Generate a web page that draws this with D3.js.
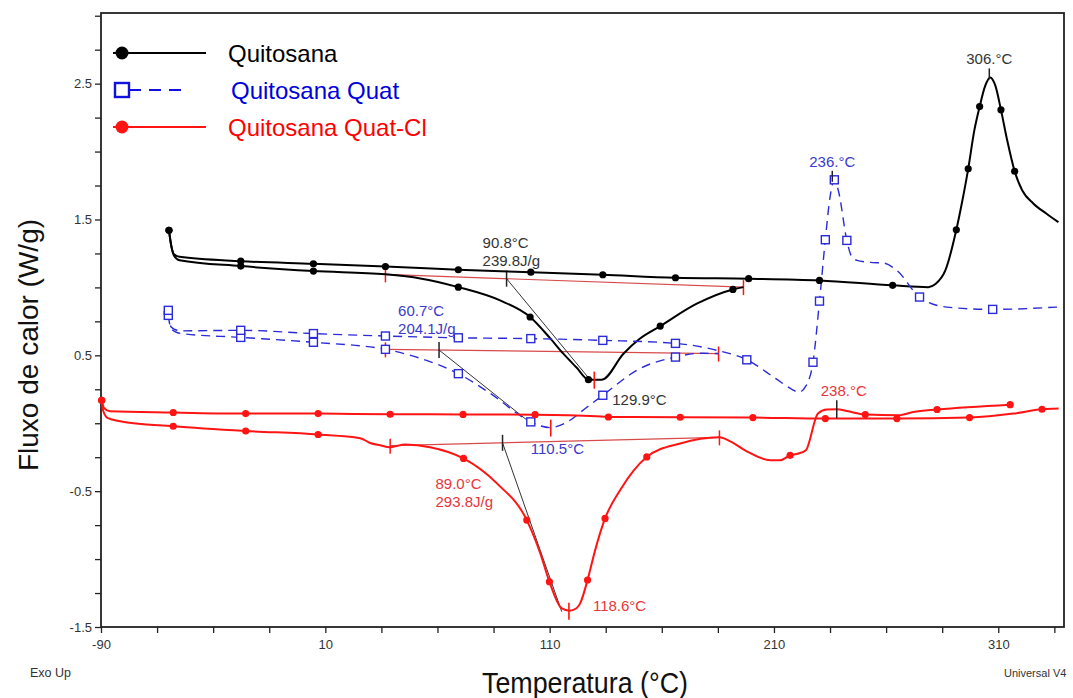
<!DOCTYPE html>
<html>
<head>
<meta charset="utf-8">
<script src="https://cdn.jsdelivr.net/npm/d3@7"></script>
<style>
  body { margin: 0; background: #fff; }
  #chart { width: 1073px; height: 698px; }
</style>
</head>
<body>
<div id="chart"></div>
<script>
// tick labels
const tempTicks = [-90, 10, 110, 210, 310];
const fluxTicks = [-1.5, -0.5, 0.5, 1.5, 2.5];

const legendItems = ["Quitosana", "Quitosana Quat", "Quitosana Quat-Cl"];

// [temperature, heat flow, marker?]
// Quitosana, run with the endotherm
const quitosanaRun1 = [
    [-59.7, 1.42, 1], [-58.6, 1.30], [-57.5, 1.235], [-55, 1.200],
    [-27.7, 1.157, 1], [4.7, 1.120, 1], [36.8, 1.096], [52.3, 1.066],
    [69.3, 1.002, 1], [87.9, 0.904], [101.3, 0.782, 1], [110, 0.63],
    [116.1, 0.512], [122, 0.41], [127.3, 0.321, 1], [133.3, 0.321],
    [142.9, 0.512], [150, 0.62], [159.3, 0.715, 1], [175.6, 0.880],
    [191.7, 0.985, 1], [196.4, 1.002]
];
// Quitosana, run to 340 °C
const quitosanaRun2 = [
    [-59.7, 1.42, 1], [-58.6, 1.30], [-57.5, 1.245], [-55, 1.225],
    [-27.7, 1.193, 1], [4.7, 1.174, 1], [36.8, 1.154, 1], [69.3, 1.130, 1],
    [101.6, 1.112, 1], [133.7, 1.093, 1], [166.1, 1.071, 1], [198.7, 1.064, 1],
    [230.3, 1.051, 1], [262.9, 1.015, 1], [278.8, 1.002], [282, 1.025],
    [286.4, 1.125], [291.3, 1.424, 1], [294, 1.64], [296.6, 1.873, 1],
    [299.3, 2.154], [301.7, 2.331, 1], [304.2, 2.485], [306.4, 2.546],
    [308.7, 2.485], [311.2, 2.307, 1], [314, 2.081], [317.3, 1.855, 1],
    [320.7, 1.713], [325.6, 1.618], [331.4, 1.544], [336.8, 1.48]
];

// Quitosana Quat
const quatRun1 = [
    [-60, 0.794, 1], [-59.5, 0.74], [-58.8, 0.70], [-57, 0.675], [-54, 0.66],
    [-27.7, 0.632, 1], [4.7, 0.596, 1], [36.8, 0.544, 1], [52.3, 0.478],
    [69.3, 0.365, 1], [83.5, 0.22], [101.6, 0.010, 1], [106, -0.02],
    [110.2, -0.032], [114, -0.02], [119.1, 0.022], [126, 0.11],
    [133.7, 0.206, 1], [150.4, 0.404], [166.1, 0.487, 1], [177.1, 0.515],
    [185.3, 0.513]
];
const quatRun2 = [
    [-60, 0.831, 1], [-59.5, 0.76], [-58.8, 0.71], [-57, 0.69], [-54, 0.68],
    [-27.7, 0.684, 1], [4.7, 0.660, 1], [36.8, 0.642, 1], [69.3, 0.629, 1],
    [101.6, 0.623, 1], [133.7, 0.610, 1], [166.1, 0.588, 1], [184.5, 0.537],
    [197.9, 0.467, 1], [210.6, 0.331], [218, 0.25], [221, 0.228],
    [224.4, 0.279], [227.4, 0.449, 1], [230.3, 0.899, 1], [232.9, 1.351, 1],
    [235.1, 1.676], [236.9, 1.792, 1], [238.7, 1.713], [242.5, 1.346, 1],
    [244.4, 1.235], [247, 1.199], [252.9, 1.184], [258.9, 1.179],
    [264.8, 1.125], [274.9, 0.929, 1], [287.1, 0.855], [307.5, 0.838, 1],
    [336.2, 0.855]
];

// Quitosana Quat-Cl
const quatClRun1 = [
    [-89.7, 0.169, 1], [-89.1, 0.096], [-86.9, 0.037], [-81.5, 0.015],
    [-57.8, -0.022, 1], [-25.5, -0.057, 1], [6.8, -0.083, 1], [25.5, -0.11],
    [30, -0.145], [34.4, -0.162], [38.9, -0.176], [45.6, -0.157],
    [56.7, -0.176], [71.6, -0.259, 1], [86.5, -0.443], [99.8, -0.713, 1],
    [105.8, -0.956], [109.9, -1.167, 1], [115.4, -1.363], [118.8, -1.380],
    [121.8, -1.364], [123.6, -1.326], [126.9, -1.154, 1], [130.3, -0.934],
    [134.7, -0.701, 1], [141.4, -0.493], [153.3, -0.248, 1], [168.2, -0.149],
    [185.7, -0.104], [190.5, -0.133], [197.9, -0.207], [208.3, -0.272],
    [212.8, -0.272], [217.2, -0.236, 1], [220.9, -0.223], [224.2, -0.199],
    [229.6, 0.071], [233.6, 0.101], [238.1, 0.103], [242.5, 0.090],
    [250.7, 0.064, 1], [265.5, 0.059], [272.2, 0.083], [282.7, 0.101, 1],
    [315.3, 0.137, 1]
];
const quatClRun2 = [
    [-89.7, 0.169, 1], [-88.6, 0.11], [-86, 0.088], [-57.8, 0.079, 1],
    [-25.5, 0.071, 1], [6.8, 0.071, 1], [38.9, 0.066, 1], [71.4, 0.065, 1],
    [103.5, 0.063, 1], [131, 0.051], [136.2, 0.046, 1], [168.2, 0.044, 1],
    [200.6, 0.042, 1], [232.9, 0.034, 1], [264.8, 0.034, 1], [297.2, 0.042, 1],
    [316.7, 0.071], [329.5, 0.103, 1], [336.9, 0.108]
];

// integration baselines [start, end]
const baselines = [
    [[36.8, 1.096], [196.4, 1.002]],
    [[36.8, 0.544], [185.3, 0.513]],
    [[38.9, -0.165], [185.7, -0.104]]
];
// onset: temperature, enthalpy, end of the tangent line
const onsetTemps = [90.8, 60.7, 89.0];
const enthalpies = ["239.8J/g", "204.1J/g", "293.8J/g"];
const tangentEnds = [[128, 0.321], [102.2, -0.007], [115.4, -1.387]];
// endothermic minima
const minTemps = [129.9, 110.5, 118.6];
const minFlux = [0.321, -0.032, -1.380];
// exothermic / transition peaks
const peakTemps = [306, 236, 238];
const peakFlux = [2.546, 1.792, 0.103];

const W = 1073, H = 698;
const FONT = "'Liberation Sans', Arial, sans-serif";
const colors = ["#000000", "#2a2ad8", "#ff1414"];
const textColors = ["#333333", "#3a3acc", "#e8363a"];

const svg = d3.select("#chart").append("svg")
    .attr("width", W).attr("height", H)
    .style("background", "#fff");

const x = d3.scaleLinear().domain([-90, 339.3]).range([101, 1064]);
const y = d3.scaleLinear().domain([-1.5, 3.02]).range([627, 13]);

// axes
const xAxis = d3.axisBottom(x)
    .tickValues(d3.range(0, 18).map(i => -90 + i * 25))
    .tickSize(6).tickSizeOuter(0)
    .tickFormat(d => tempTicks.includes(d) ? String(d) : "");
const yAxis = d3.axisLeft(y)
    .tickValues(d3.range(0, 19).map(i => -1.5 + i * 0.25))
    .tickSize(6).tickSizeOuter(0)
    .tickFormat(d => fluxTicks.some(t => Math.abs(t - d) < 1e-6) ? d.toFixed(1) : "");

const gx = svg.append("g").attr("transform", "translate(0,627)").call(xAxis);
const gy = svg.append("g").attr("transform", "translate(101,0)").call(yAxis);
[gx, gy].forEach(g => {
    g.select(".domain").remove();
    g.selectAll(".tick line").attr("stroke", "#222").attr("stroke-width", 1.3);
    g.selectAll(".tick text").attr("fill", "#333").style("font-family", FONT).style("font-size", "13px");
});
gx.selectAll(".tick text").attr("dy", "1em");

// frame
svg.append("rect")
    .attr("x", 101).attr("y", 13)
    .attr("width", 1064 - 101).attr("height", 627 - 13)
    .attr("fill", "none").attr("stroke", "#222").attr("stroke-width", 1.8);

// annotations under the curves
const plot = svg.append("g");
baselines.forEach((b, i) => {
    plot.append("line")
        .attr("x1", x(b[0][0])).attr("y1", y(b[0][1]))
        .attr("x2", x(b[1][0])).attr("y2", y(b[1][1]))
        .attr("stroke", "#d84a4a").attr("stroke-width", 1.2);
    b.forEach(p => {
        plot.append("line")
            .attr("x1", x(p[0])).attr("x2", x(p[0]))
            .attr("y1", y(p[1]) - 7).attr("y2", y(p[1]) + 8)
            .attr("stroke", "#ff1414").attr("stroke-width", 1.5);
    });
});

const baseAt = (b, t) => b[0][1] + (t - b[0][0]) / (b[1][0] - b[0][0]) * (b[1][1] - b[0][1]);

onsetTemps.forEach((t, i) => {
    const v = baseAt(baselines[i], t);
    plot.append("line")
        .attr("x1", x(t)).attr("y1", y(v))
        .attr("x2", x(tangentEnds[i][0])).attr("y2", y(tangentEnds[i][1]))
        .attr("stroke", "#333").attr("stroke-width", 1);
    plot.append("line")
        .attr("x1", x(t)).attr("x2", x(t))
        .attr("y1", y(v) - 8).attr("y2", y(v) + 8)
        .attr("stroke", "#222").attr("stroke-width", 1.5);
});

// curves
const line = d3.line()
    .x(d => x(d[0])).y(d => y(d[1]))
    .curve(d3.curveMonotoneX);

const series = [
    { key: "q1", data: quitosanaRun1, c: 0 },
    { key: "q2", data: quitosanaRun2, c: 0 },
    { key: "qq1", data: quatRun1, c: 1 },
    { key: "qq2", data: quatRun2, c: 1 },
    { key: "qc1", data: quatClRun1, c: 2 },
    { key: "qc2", data: quatClRun2, c: 2 }
];

svg.selectAll(".curve")
    .data(series, d => d.key)
    .join("path")
    .attr("class", d => `curve ${d.key}`)
    .attr("d", d => line(d.data))
    .attr("fill", "none")
    .attr("stroke", d => colors[d.c])
    .attr("stroke-width", d => d.c == 1 ? 1.4 : 2)
    .attr("stroke-dasharray", d => d.c == 1 ? "9,6" : null);

// point markers
series.forEach(s => {
    const pts = s.data.filter(d => d[2]);
    if (s.c == 1) {
        svg.selectAll(".mk-" + s.key).data(pts).join("rect")
            .attr("x", d => x(d[0]) - 4).attr("y", d => y(d[1]) - 4)
            .attr("width", 8).attr("height", 8)
            .attr("fill", "#fff").attr("stroke", colors[1]).attr("stroke-width", 1.4);
    } else {
        svg.selectAll(".mk-" + s.key).data(pts).join("circle")
            .attr("cx", d => x(d[0])).attr("cy", d => y(d[1]))
            .attr("r", 3.6).attr("fill", colors[s.c]);
    }
});

// minimum ticks (red crosses)
minTemps.forEach((t, i) => {
    svg.append("line")
        .attr("x1", x(t)).attr("x2", x(t))
        .attr("y1", y(minFlux[i]) - 8).attr("y2", y(minFlux[i]) + 9)
        .attr("stroke", "#ff1414").attr("stroke-width", 1.6);
});
// peak ticks
peakTemps.forEach((t, i) => {
    svg.append("line")
        .attr("x1", x(t)).attr("x2", x(t))
        .attr("y1", y(peakFlux[i]) - 9).attr("y2", y(peakFlux[i]) + (i == 2 ? 9 : 2))
        .attr("stroke", "#222").attr("stroke-width", 1.5);
});

// annotation texts
const note = (px, py, txt, c, anchor) => svg.append("text")
    .attr("x", px).attr("y", py).text(txt)
    .attr("fill", c).attr("text-anchor", anchor || "start")
    .style("font-family", FONT).style("font-size", "15px");

const onsetOffsets = [[-24, -31], [-41, -34], [-67, 46]];
onsetTemps.forEach((t, i) => {
    const px = x(t) + onsetOffsets[i][0];
    const py = y(baseAt(baselines[i], t)) + onsetOffsets[i][1];
    note(px, py, t.toFixed(1) + "°C", textColors[i]);
    note(px, py + 18, enthalpies[i], textColors[i]);
});
const minOffsets = [[18, 25], [-20, 26], [24, 0]];
minTemps.forEach((t, i) => {
    note(x(t) + minOffsets[i][0], y(minFlux[i]) + minOffsets[i][1], t.toFixed(1) + "°C", textColors[i]);
});
const peakShift = [0, 0, 7];
peakTemps.forEach((t, i) => {
    note(x(t) + peakShift[i], y(peakFlux[i]) - 13, t + ".°C", textColors[i], "middle");
});

// legend
const legend = svg.append("g");
legendItems.forEach((name, i) => {
    const ly = 53 + i * 37;
    if (i == 1) {
        legend.append("rect").attr("x", 115).attr("y", ly - 7)
            .attr("width", 14).attr("height", 14)
            .attr("fill", "#fff").attr("stroke", "#1010e0").attr("stroke-width", 2.4);
        legend.append("line").attr("x1", 129).attr("x2", 188).attr("y1", ly).attr("y2", ly)
            .attr("stroke", "#1010e0").attr("stroke-width", 2.2).attr("stroke-dasharray", "12,8");
    } else {
        legend.append("line").attr("x1", 113).attr("x2", 206).attr("y1", ly).attr("y2", ly)
            .attr("stroke", colors[i]).attr("stroke-width", 2.2);
        legend.append("circle").attr("cx", 122).attr("cy", ly).attr("r", 6.5)
            .attr("fill", colors[i]);
    }
    legend.append("text")
        .attr("x", i == 1 ? 231 : 228).attr("y", ly + 9)
        .text(name)
        .attr("fill", ["#000", "#0000dd", "#ff0000"][i])
        .style("font-family", FONT).style("font-size", "24px");
});

// axis titles and footer
svg.append("text")
    .attr("transform", "translate(38,345) rotate(-90)")
    .attr("text-anchor", "middle")
    .text("Fluxo de calor (W/g)")
    .style("font-family", FONT).style("font-size", "28px").attr("fill", "#111");
svg.append("text")
    .attr("x", 482).attr("y", 693)
    .attr("textLength", 206).attr("lengthAdjust", "spacingAndGlyphs")
    .text("Temperatura (°C)")
    .style("font-family", FONT).style("font-size", "30px").attr("fill", "#111");
svg.append("text")
    .attr("x", 30).attr("y", 677).text("Exo Up")
    .attr("textLength", 41).attr("lengthAdjust", "spacingAndGlyphs")
    .style("font-family", FONT).style("font-size", "13px").attr("fill", "#333");
svg.append("text")
    .attr("x", 1004).attr("y", 677).text("Universal V4")
    .style("font-family", FONT).style("font-size", "11px").attr("fill", "#333");
</script>
</body>
</html>
